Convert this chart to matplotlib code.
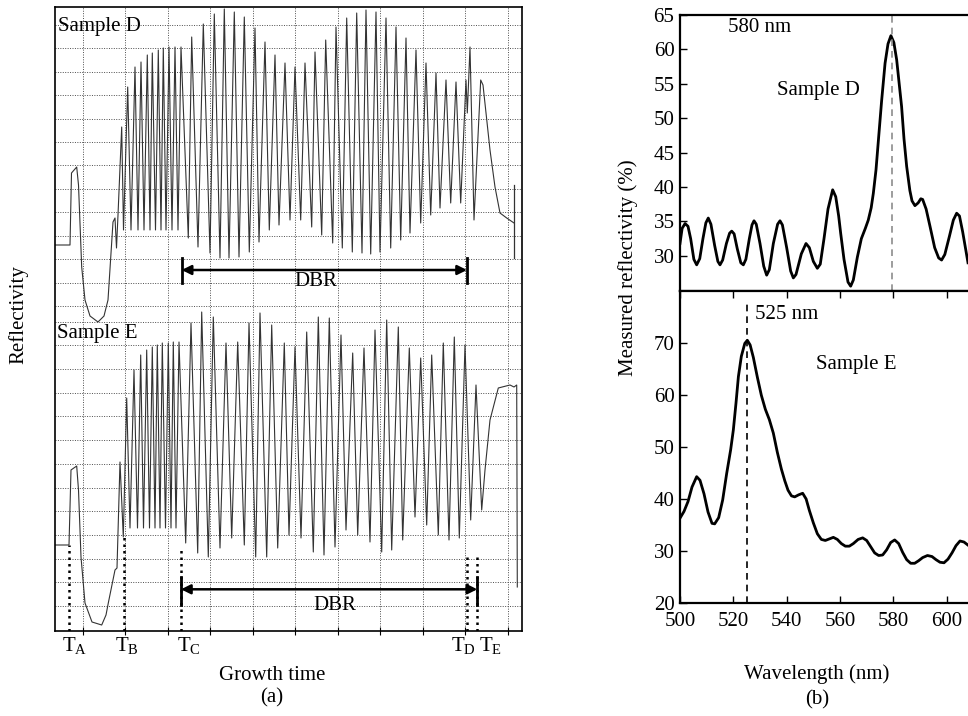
import numpy as np
import matplotlib
matplotlib.use('Agg')
import matplotlib.pyplot as plt

plt.rcParams['font.family'] = ['Liberation Serif', 'DejaVu Serif']
plt.rcParams['mathtext.fontset'] = 'custom'
plt.rcParams['mathtext.rm'] = 'Liberation Serif'
plt.rcParams['mathtext.it'] = 'Liberation Serif'

# ---- (a) in-situ reflectivity traces (growth time / reflectivity, arbitrary units) ----
d_time = [0, 15, 16.5, 21.7, 23.5, 26.7, 30, 35, 43, 49, 53, 58, 60, 61.5, 63,
          66.7, 68.5, 72.7, 76, 80, 83, 86, 89, 92.3, 95, 97.3, 100.5, 103.3, 106, 108.3, 111,
          114, 117, 120, 123, 126,
          133.3, 136.7, 143, 148.3, 155, 159.3, 165, 169.3, 174, 179.3, 184, 189.3, 194.3, 200,
          204, 210, 214.3, 220, 224, 230, 235, 240, 245.7, 250, 256.7, 260, 266.7, 270.7,
          277.7, 281, 287.3, 291.7, 297.3, 301.7, 307, 311, 315.7, 321, 325, 331, 335.7, 341,
          345.7, 351, 355, 361, 365.7, 371, 375.7, 381, 385, 391, 395.7, 401, 405.7, 411,
          412.3, 415, 419, 425.7, 428, 435, 440, 445, 451.7, 459]
d_refl = [386, 386, 458, 464, 446, 364, 331, 315, 309, 315, 331, 409, 413, 383, 416,
          504, 401, 544, 401, 564, 401, 569, 401, 576, 401, 578, 401, 581, 401, 583, 401,
          584, 401, 584, 401, 584,
          393, 594, 384, 607, 378, 617, 373, 622, 373, 619, 374, 614, 379, 603,
          389, 589, 401, 576, 406, 568, 411, 564, 411, 568, 404, 579, 396, 591,
          388, 604, 383, 613, 379, 618, 378, 621, 377, 619, 379, 613, 383, 604,
          391, 593, 398, 581, 408, 568, 416, 558, 423, 551, 428, 549, 428, 551,
          518, 584, 411, 551, 546, 481, 444, 418, 413, 408]
d_end_time = [459.3, 459.3]
d_end_refl = [373, 446]

e_time = [0, 14, 16, 21.7, 23.5, 26, 30, 37, 46.7, 51, 53.3, 60, 62, 65, 68.3,
          71.7, 75, 79, 82.5, 85.7, 88.5, 91.7, 94.5, 97.3, 100, 102.3, 105, 107.3, 110.5,
          113.3, 116, 118.3, 121, 124,
          130.7, 136, 142.7, 146.7, 153.3, 158.3, 165, 171, 176.7, 182.7, 189.3, 194, 200.7,
          205, 211.7, 216.7, 222.7, 229.3, 234, 240, 246, 251.7, 258.3, 263.3, 269, 274.3,
          280, 286, 291, 297.7, 302.7, 309, 315, 320, 326.7, 331.7, 336.7, 343.3, 347.7,
          354.3, 360, 365.7, 371.7, 376.7, 383.3, 388.3, 394, 399.3, 404.3, 410, 415.7,
          421, 426.7, 430, 435, 443.3, 455, 459, 461.7, 462.3]
e_refl = [86, 86, 161, 165, 141, 74, 28, 9, 6, 16, 28, 61, 63, 169, 94,
          233, 103, 261, 103, 276, 103, 281, 103, 284, 103, 286, 103, 288, 103,
          288, 103, 289, 103, 289,
          88, 308, 78, 319, 74, 314, 83, 288, 93, 289, 86, 308, 74,
          318, 74, 306, 83, 288, 96, 284, 93, 299, 79, 314, 76, 313,
          84, 296, 101, 278, 96, 283, 89, 301, 79, 311, 81, 304, 91,
          283, 114, 273, 106, 276, 96, 288, 91, 294, 93, 286, 111,
          246, 121, 161, 211, 243, 246, 244, 246, 44]

t_marks = [13.7, 69.5, 126, 411.7, 422]
t_mark_tops = [86, 94, 81, 76, 76]
t_label_pos = [7, 60, 122, 396, 424]
t_names = ['A', 'B', 'C', 'D', 'E']

grid_t = 27.7 + 42.5 * np.arange(11)
grid_r = np.concatenate([25 + 23.7 * np.arange(13), 325 + 23.42 * np.arange(13)])

# ---- (b) measured reflectivity spectra ----
wl_d = [500, 500.8, 501.9, 503, 504, 505.2, 506.25, 507.4, 508.6, 509.7, 510.6, 511.6,
        513, 514.2, 515, 516, 517.4, 518.6, 519.4, 520.3, 521.5, 522.8, 523.75, 524.7,
        526, 527, 527.75, 528.6, 530, 531.4, 532.5, 533.5, 535, 536.6, 537.5, 538.4,
        540, 541.5, 542.5, 543.5, 545.5, 547.25, 548.5, 550, 551.5, 552.6, 554, 555.5,
        557.25, 558.4, 559.5, 560.25, 561.5, 563, 564, 565, 566.5, 568, 569.5, 570.6,
        571.7, 572.5, 573.5, 574.4, 575.6, 576.9, 578, 579.1, 580.2, 581.25, 582.2,
        583.1, 584, 585, 586.2, 587, 588.1, 589.3, 590.3, 591, 592.3, 593.75, 595.5,
        597, 598.1, 599.3, 601, 602.5, 603.75, 604.8, 606, 607.2, 608]
refl_d = [31.8, 34.0, 34.7, 34.3, 32.5, 29.5, 28.7, 29.6, 32.5, 34.8, 35.5, 34.6,
          31.5, 29.2, 28.7, 29.4, 31.8, 33.3, 33.6, 33.2, 31.0, 29.0, 28.7, 29.5,
          32.5, 34.5, 35.1, 34.6, 31.8, 28.5, 27.2, 28.0, 31.8, 34.6, 35.1, 34.5,
          31.2, 27.8, 26.8, 27.3, 30.3, 31.8, 31.2, 29.2, 28.2, 28.8, 32.5, 36.8,
          39.6, 38.6, 35.8, 33.3, 29.5, 26.2, 25.6, 26.5, 29.8, 32.5, 34.0, 35.2,
          37.0, 39.1, 42.5, 46.8, 52.5, 58.0, 60.8, 62.0, 61.0, 58.5, 55.0,
          51.7, 47.0, 43.0, 39.5, 38.0, 37.3, 37.7, 38.3, 38.2, 36.8, 34.3, 31.2,
          29.7, 29.4, 30.2, 32.8, 35.2, 36.2, 35.8, 33.5, 30.8, 29.0]
wl_e = [500, 501.5, 503, 504.5, 506.25, 507.5, 509, 510.5, 512, 513, 514.5, 516,
        517.5, 519, 520, 521, 521.9, 523, 524.3, 525.25, 526.3, 527.5, 529, 530.5,
        532, 533.5, 535, 536.5, 538, 539.3, 540.5, 541.8, 543, 544.5, 546, 547.3,
        548.5, 550, 551.5, 553, 554.5, 556, 557.5, 559, 560.5, 562, 563.5, 565,
        566.8, 568.5, 570, 571.5, 573, 574.5, 576, 577.5, 579, 580.5, 582, 583.5,
        585, 586.5, 588, 589.5, 591, 592.8, 594.5, 596, 597.5, 599, 600.5, 602,
        603.5, 605, 606.5, 608]
refl_e = [36.3, 37.6, 39.5, 42.3, 44.3, 43.6, 41.0, 37.5, 35.3, 35.2, 36.4, 39.8,
          44.9, 49.5, 53.3, 58.5, 63.6, 67.5, 70.0, 70.6, 69.7, 67.3, 63.5, 60.0,
          57.3, 55.3, 52.7, 49.0, 45.8, 43.5, 41.7, 40.6, 40.4, 40.8, 41.1, 40.0,
          37.8, 35.4, 33.3, 32.2, 32.0, 32.3, 32.6, 32.2, 31.4, 30.9, 30.9, 31.4,
          32.2, 32.5, 32.0, 30.8, 29.6, 29.1, 29.2, 30.2, 31.6, 32.1, 31.4, 29.7,
          28.3, 27.6, 27.6, 28.1, 28.7, 29.1, 28.9, 28.3, 27.8, 27.7, 28.4, 29.6,
          31.0, 31.9, 31.7, 31.1]
peak_d = 579.5
peak_e = 525.2

fig = plt.figure(figsize=(9.68, 7.16), dpi=100)
fs = 15

# (a)
ax = fig.add_axes([55/968, 1-631/716, 467/968, 624/716])
ax.plot(d_time, d_refl, color='0.2', lw=0.8)
ax.plot(d_end_time, d_end_refl, color='0.2', lw=0.9)
ax.plot(e_time, e_refl, color='0.2', lw=0.8)
ax.set_xlim(0, 467)
ax.set_ylim(0, 624)
ax.set_xticks(grid_t)
ax.set_yticks(grid_r)
ax.set_xticklabels([])
ax.set_yticklabels([])
ax.tick_params(axis='y', length=0)
ax.tick_params(axis='x', direction='inout', length=6, width=0.8)
ax.grid(True, ls=(0, (1, 1.5)), color='0.3', lw=0.7)
for s in ax.spines.values():
    s.set_linewidth(1.2)

for tm, top in zip(t_marks, t_mark_tops):
    ax.plot([tm, tm], [0, top], color='black', lw=1.8, ls=(0, (1, 1.6)))
for tx, nm in zip(t_label_pos, t_names):
    ax.text(tx, -15, r'$\mathrm{T_{%s}}$' % nm, fontsize=fs, ha='left', va='center',
            clip_on=False)

# DBR arrows
for x0, x1, y, yb in [(126.7, 412, 361, (348, 373)), (126, 422.3, 41.7, (26, 54))]:
    ax.annotate('', xy=(x0, y), xytext=(x1, y),
                arrowprops=dict(arrowstyle='<|-|>', color='black', lw=1.8,
                                mutation_scale=14, shrinkA=0, shrinkB=0))
    ax.plot([x0, x0], yb, color='black', lw=2)
    ax.plot([x1, x1], yb, color='black', lw=2)
ax.text(261, 349, 'DBR', fontsize=fs, ha='center', va='center')
ax.text(280, 25, 'DBR', fontsize=fs, ha='center', va='center')
ax.text(3, 604, 'Sample D', fontsize=fs, ha='left', va='center')
ax.text(2, 297, 'Sample E', fontsize=fs, ha='left', va='center')

fig.text(18/968, 1-315/716, 'Reflectivity', rotation=90, fontsize=fs, ha='center', va='center')
fig.text(272/968, 1-675/716, 'Growth time', fontsize=fs, ha='center', va='center')
fig.text(272/968, 1-698/716, '(a)', fontsize=fs, ha='center', va='center')

# (b)
axd = fig.add_axes([680/968, 1-291/716, 288/968, 276/716])
axe = fig.add_axes([680/968, 1-602.7/716, 288/968, 311.7/716])

axd.plot(wl_d, refl_d, color='black', lw=2)
axd.axvline(peak_d, color='0.55', ls=(0, (4, 3)), lw=1.2)
axd.set_xlim(500, 608)
axd.set_ylim(24.9, 65)
axd.set_yticks(np.arange(30, 66, 5))
axd.set_xticks([])
axd.text(530, 63.2, '580 nm', fontsize=fs, ha='center', va='center')
axd.text(552, 54, 'Sample D', fontsize=fs, ha='center', va='center')

axe.plot(wl_e, refl_e, color='black', lw=2)
axe.plot([peak_e, peak_e], [20, 77.5], color='black', ls=(0, (4, 3)), lw=1.2)
axe.set_xlim(500, 608)
axe.set_ylim(20, 80.1)
axe.set_yticks(np.arange(20, 71, 10))
axe.set_xticks(np.arange(500, 601, 20))
axe.text(528, 75.5, '525 nm', fontsize=fs, ha='left', va='center')
axe.text(566, 66, 'Sample E', fontsize=fs, ha='center', va='center')

for a in (axd, axe):
    a.spines['right'].set_visible(False)
    for s in ('left', 'top', 'bottom'):
        a.spines[s].set_linewidth(1.6)
    a.tick_params(direction='in', length=5, width=1, labelsize=fs, pad=4)
axe.tick_params(axis='x', top=True, pad=7)

fig.text(628/968, 1-268/716, 'Measured reflectivity (%)', rotation=90, fontsize=fs,
         ha='center', va='center')
fig.text(817/968, 1-674/716, 'Wavelength (nm)', fontsize=fs, ha='center', va='center')
fig.text(817/968, 1-700/716, '(b)', fontsize=fs, ha='center', va='center')

fig.savefig('out.png', dpi=100)
